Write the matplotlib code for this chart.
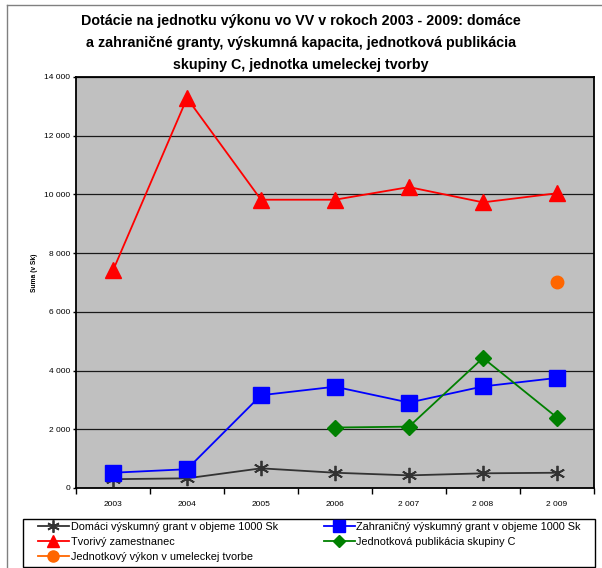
import matplotlib
matplotlib.use("Agg")
import matplotlib.pyplot as plt
from matplotlib.lines import Line2D
from matplotlib.patches import Rectangle

plt.rcParams['font.family'] = ['Liberation Sans', 'DejaVu Sans']

years = ["2003", "2004", "2005", "2006", "2 007", "2 008", "2 009"]
domaci = [300, 330, 670, 520, 430, 500, 520]
zahranicny = [520, 640, 3160, 3450, 2910, 3460, 3750]
tvorivy = [7410, 13280, 9820, 9820, 10250, 9730, 10040]
publikacia = [None, None, None, 2060, 2090, 4430, 2400]
umelecky = [None, None, None, None, None, None, 7030]

yticks = [0, 2000, 4000, 6000, 8000, 10000, 12000, 14000]
ytick_labels = ["0", "2 000", "4 000", "6 000", "8 000", "10 000", "12 000", "14 000"]

title = ("Dotácie na jednotku výkonu vo VV v rokoch 2003 - 2009: domáce\n"
         "a zahraničné granty, výskumná kapacita, jednotková publikácia\n"
         "skupiny C, jednotka umeleckej tvorby")

W, H = 602, 568
fig = plt.figure(figsize=(W / 100, H / 100), dpi=100)
fig.patch.set_facecolor('white')

# chart-area outline (top and left)
fig.add_artist(Line2D([7 / W, 1], [1 - 5 / H, 1 - 5 / H], color='#808080', lw=1))
fig.add_artist(Line2D([7 / W, 7 / W], [0, 1 - 5 / H], color='#808080', lw=1))

l, t, r, b = 76, 77, 594, 488
ax = fig.add_axes([l / W, 1 - b / H, (r - l) / W, (b - t) / H])
ax.set_facecolor('#C0C0C0')

x = list(range(len(years)))

def pts(vals):
    xs = [i for i, v in zip(x, vals) if v is not None]
    ys = [v for v in vals if v is not None]
    return xs, ys

xs, ys = pts(domaci)
ax.plot(xs, ys, color='#333333', lw=1.3, marker=(6, 2, 0), markersize=11,
        markeredgewidth=1.3, markeredgecolor='#333333', zorder=3)
xs, ys = pts(zahranicny)
ax.plot(xs, ys, color='#0000FF', lw=1.3, marker='s', markersize=11,
        markerfacecolor='#0000FF', markeredgecolor='#0000FF', zorder=3)
xs, ys = pts(tvorivy)
ax.plot(xs, ys, color='#FF0000', lw=1.3, marker='^', markersize=11,
        markerfacecolor='#FF0000', markeredgecolor='#FF0000', zorder=3)
xs, ys = pts(publikacia)
ax.plot(xs, ys, color='#008000', lw=1.3, marker='D', markersize=8,
        markerfacecolor='#008000', markeredgecolor='#008000', zorder=3)
xs, ys = pts(umelecky)
ax.plot(xs, ys, color='#FF6600', lw=1.3, marker='o', markersize=9,
        markerfacecolor='#FF6600', markeredgecolor='#FF6600', zorder=3)

ax.set_xlim(-0.5, len(years) - 0.5)
ax.set_ylim(0, 14000)
ax.set_yticks(yticks)
ax.set_yticklabels(ytick_labels, fontsize=6)
ax.set_xticks(x)
ax.set_xticklabels(years, fontsize=6)
ax.tick_params(axis='x', which='major', length=0, pad=9)
ax.set_xticks([i + 0.5 for i in range(-1, len(years))], minor=True)
ax.tick_params(axis='x', which='minor', length=4, direction='out', width=1)
ax.tick_params(axis='y', length=2.3, direction='out', width=1, pad=2)
ax.grid(axis='y', color='#1a1a1a', lw=0.9, zorder=1)
ax.set_axisbelow(True)
for s in ax.spines.values():
    s.set_linewidth(1.3)
    s.set_color('black')

fig.text(34 / W, 1 - 273 / H, "Suma (v Sk)", rotation=90, ha='center', va='center',
         fontsize=4.8, fontweight='bold')

fig.text(0.5, 1 - 14 / H, title, ha='center', va='top',
         fontsize=10.3, fontweight='bold', linespacing=1.72)

handles = [
    Line2D([], [], color='#333333', lw=1.3, marker=(6, 2, 0), markersize=9, markeredgewidth=1.3),
    Line2D([], [], color='#FF0000', lw=1.3, marker='^', markersize=8),
    Line2D([], [], color='#FF6600', lw=1.3, marker='o', markersize=8),
    Line2D([], [], color='#0000FF', lw=1.3, marker='s', markersize=8),
    Line2D([], [], color='#008000', lw=1.3, marker='D', markersize=6.5),
]
labels = [
    "Domáci výskumný grant v objeme 1000 Sk",
    "Tvorivý zamestnanec",
    "Jednotkový výkon v umeleckej tvorbe",
    "Zahraničný výskumný grant v objeme 1000 Sk",
    "Jednotková publikácia skupiny C",
]
fig.add_artist(Rectangle((23 / W, 1 - 567 / H), (595 - 23) / W, (567 - 519) / H,
                         transform=fig.transFigure, facecolor='white',
                         edgecolor='black', lw=1.0))
leg = fig.legend(handles, labels, ncol=2, loc='upper left',
                 bbox_to_anchor=(38 / W, 1 - 522 / H),
                 fontsize=7.8, frameon=False, handlelength=2.86, handletextpad=0.18,
                 borderpad=0, labelspacing=0.45, borderaxespad=0, columnspacing=4.2)

fig.savefig("out.png", dpi=100)
